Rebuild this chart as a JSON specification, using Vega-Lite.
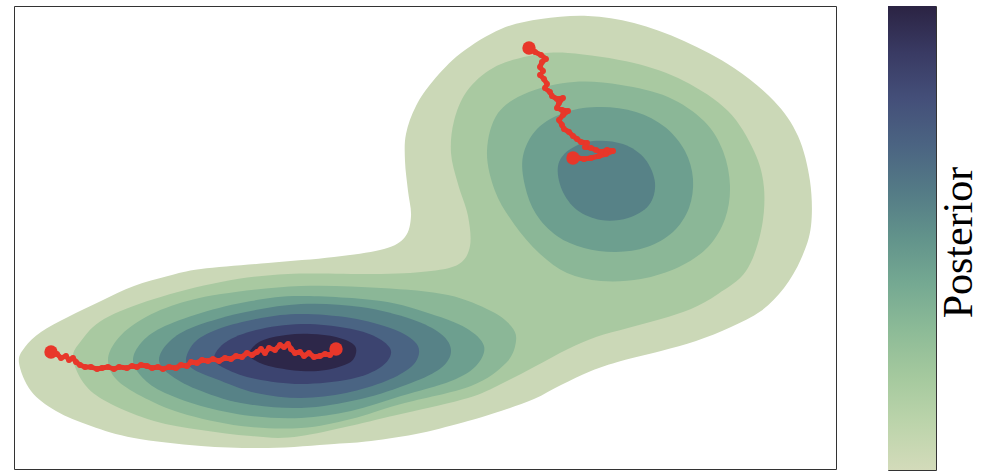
{
  "$schema": "https://vega.github.io/schema/vega-lite/v6.json",
  "background": "white",
  "padding": {"left": 13, "top": 5, "right": 0, "bottom": 0},
  "config": {"view": {"stroke": "#333333", "strokeWidth": 1}},
  "spacing": 50,
  "datasets": {
    "contours": [
      {"c":"1","lv":1,"x":18,"y":362},{"c":"1","lv":1,"x":24,"y":346},{"c":"1","lv":1,"x":40,"y":331},{"c":"1","lv":1,"x":67,"y":316},{"c":"1","lv":1,"x":100,"y":300},{"c":"1","lv":1,"x":133,"y":285},{"c":"1","lv":1,"x":167,"y":275},{"c":"1","lv":1,"x":200,"y":268},{"c":"1","lv":1,"x":267,"y":262},{"c":"1","lv":1,"x":333,"y":256},{"c":"1","lv":1,"x":383,"y":248},{"c":"1","lv":1,"x":404,"y":236},{"c":"1","lv":1,"x":410,"y":215},{"c":"1","lv":1,"x":407,"y":190},{"c":"1","lv":1,"x":404,"y":160},{"c":"1","lv":1,"x":405,"y":133},{"c":"1","lv":1,"x":415,"y":105},{"c":"1","lv":1,"x":432,"y":80},{"c":"1","lv":1,"x":460,"y":52},{"c":"1","lv":1,"x":500,"y":28},{"c":"1","lv":1,"x":540,"y":18},{"c":"1","lv":1,"x":587,"y":15},{"c":"1","lv":1,"x":633,"y":22},{"c":"1","lv":1,"x":683,"y":40},{"c":"1","lv":1,"x":733,"y":67},{"c":"1","lv":1,"x":773,"y":100},{"c":"1","lv":1,"x":797,"y":135},{"c":"1","lv":1,"x":809,"y":180},{"c":"1","lv":1,"x":810,"y":225},{"c":"1","lv":1,"x":800,"y":258},{"c":"1","lv":1,"x":783,"y":287},{"c":"1","lv":1,"x":760,"y":310},{"c":"1","lv":1,"x":730,"y":326},{"c":"1","lv":1,"x":695,"y":340},{"c":"1","lv":1,"x":660,"y":350},{"c":"1","lv":1,"x":620,"y":360},{"c":"1","lv":1,"x":590,"y":370},{"c":"1","lv":1,"x":560,"y":384},{"c":"1","lv":1,"x":533,"y":398},{"c":"1","lv":1,"x":500,"y":410},{"c":"1","lv":1,"x":467,"y":420},{"c":"1","lv":1,"x":420,"y":432},{"c":"1","lv":1,"x":370,"y":440},{"c":"1","lv":1,"x":333,"y":443},{"c":"1","lv":1,"x":267,"y":447},{"c":"1","lv":1,"x":200,"y":445},{"c":"1","lv":1,"x":133,"y":437},{"c":"1","lv":1,"x":90,"y":425},{"c":"1","lv":1,"x":55,"y":410},{"c":"1","lv":1,"x":30,"y":390},
      {"c":"2","lv":2,"x":72,"y":358},{"c":"2","lv":2,"x":80,"y":340},{"c":"2","lv":2,"x":103,"y":318},{"c":"2","lv":2,"x":153,"y":298},{"c":"2","lv":2,"x":220,"y":281},{"c":"2","lv":2,"x":287,"y":273},{"c":"2","lv":2,"x":380,"y":273},{"c":"2","lv":2,"x":430,"y":270},{"c":"2","lv":2,"x":458,"y":263},{"c":"2","lv":2,"x":469,"y":245},{"c":"2","lv":2,"x":467,"y":215},{"c":"2","lv":2,"x":457,"y":183},{"c":"2","lv":2,"x":450,"y":152},{"c":"2","lv":2,"x":453,"y":120},{"c":"2","lv":2,"x":466,"y":90},{"c":"2","lv":2,"x":492,"y":67},{"c":"2","lv":2,"x":528,"y":55},{"c":"2","lv":2,"x":567,"y":52},{"c":"2","lv":2,"x":633,"y":62},{"c":"2","lv":2,"x":683,"y":80},{"c":"2","lv":2,"x":727,"y":110},{"c":"2","lv":2,"x":753,"y":150},{"c":"2","lv":2,"x":763,"y":187},{"c":"2","lv":2,"x":760,"y":230},{"c":"2","lv":2,"x":745,"y":270},{"c":"2","lv":2,"x":717,"y":293},{"c":"2","lv":2,"x":690,"y":308},{"c":"2","lv":2,"x":660,"y":318},{"c":"2","lv":2,"x":627,"y":327},{"c":"2","lv":2,"x":595,"y":336},{"c":"2","lv":2,"x":567,"y":348},{"c":"2","lv":2,"x":533,"y":366},{"c":"2","lv":2,"x":500,"y":383},{"c":"2","lv":2,"x":467,"y":397},{"c":"2","lv":2,"x":400,"y":413},{"c":"2","lv":2,"x":300,"y":435},{"c":"2","lv":2,"x":250,"y":435},{"c":"2","lv":2,"x":200,"y":429},{"c":"2","lv":2,"x":153,"y":420},{"c":"2","lv":2,"x":110,"y":403},{"c":"2","lv":2,"x":85,"y":385},
      {"c":"3a","lv":3,"x":107,"y":359},{"c":"3a","lv":3,"x":115,"y":340},{"c":"3a","lv":3,"x":135,"y":322},{"c":"3a","lv":3,"x":170,"y":305},{"c":"3a","lv":3,"x":220,"y":293},{"c":"3a","lv":3,"x":300,"y":285},{"c":"3a","lv":3,"x":380,"y":287},{"c":"3a","lv":3,"x":447,"y":294},{"c":"3a","lv":3,"x":490,"y":310},{"c":"3a","lv":3,"x":510,"y":325},{"c":"3a","lv":3,"x":515,"y":340},{"c":"3a","lv":3,"x":505,"y":362},{"c":"3a","lv":3,"x":470,"y":385},{"c":"3a","lv":3,"x":400,"y":403},{"c":"3a","lv":3,"x":350,"y":418},{"c":"3a","lv":3,"x":300,"y":427},{"c":"3a","lv":3,"x":240,"y":425},{"c":"3a","lv":3,"x":180,"y":412},{"c":"3a","lv":3,"x":140,"y":395},{"c":"3a","lv":3,"x":115,"y":378},
      {"c":"3b","lv":3,"x":497,"y":112},{"c":"3b","lv":3,"x":528,"y":91},{"c":"3b","lv":3,"x":573,"y":81},{"c":"3b","lv":3,"x":620,"y":84},{"c":"3b","lv":3,"x":667,"y":96},{"c":"3b","lv":3,"x":703,"y":120},{"c":"3b","lv":3,"x":722,"y":150},{"c":"3b","lv":3,"x":729,"y":185},{"c":"3b","lv":3,"x":724,"y":218},{"c":"3b","lv":3,"x":707,"y":246},{"c":"3b","lv":3,"x":678,"y":266},{"c":"3b","lv":3,"x":640,"y":278},{"c":"3b","lv":3,"x":600,"y":280},{"c":"3b","lv":3,"x":566,"y":272},{"c":"3b","lv":3,"x":538,"y":252},{"c":"3b","lv":3,"x":513,"y":223},{"c":"3b","lv":3,"x":494,"y":190},{"c":"3b","lv":3,"x":486,"y":150},
      {"c":"4a","lv":4,"x":132,"y":359},{"c":"4a","lv":4,"x":140,"y":342},{"c":"4a","lv":4,"x":160,"y":327},{"c":"4a","lv":4,"x":200,"y":312},{"c":"4a","lv":4,"x":250,"y":300},{"c":"4a","lv":4,"x":300,"y":295},{"c":"4a","lv":4,"x":380,"y":300},{"c":"4a","lv":4,"x":430,"y":313},{"c":"4a","lv":4,"x":465,"y":327},{"c":"4a","lv":4,"x":483,"y":345},{"c":"4a","lv":4,"x":475,"y":365},{"c":"4a","lv":4,"x":450,"y":380},{"c":"4a","lv":4,"x":400,"y":395},{"c":"4a","lv":4,"x":350,"y":410},{"c":"4a","lv":4,"x":300,"y":417},{"c":"4a","lv":4,"x":250,"y":415},{"c":"4a","lv":4,"x":200,"y":405},{"c":"4a","lv":4,"x":160,"y":390},{"c":"4a","lv":4,"x":140,"y":375},
      {"c":"4b","lv":4,"x":522,"y":155},{"c":"4b","lv":4,"x":536,"y":128},{"c":"4b","lv":4,"x":565,"y":111},{"c":"4b","lv":4,"x":600,"y":106},{"c":"4b","lv":4,"x":635,"y":111},{"c":"4b","lv":4,"x":664,"y":126},{"c":"4b","lv":4,"x":684,"y":150},{"c":"4b","lv":4,"x":692,"y":178},{"c":"4b","lv":4,"x":688,"y":207},{"c":"4b","lv":4,"x":672,"y":231},{"c":"4b","lv":4,"x":646,"y":246},{"c":"4b","lv":4,"x":615,"y":251},{"c":"4b","lv":4,"x":583,"y":247},{"c":"4b","lv":4,"x":556,"y":235},{"c":"4b","lv":4,"x":535,"y":213},{"c":"4b","lv":4,"x":524,"y":185},
      {"c":"5a","lv":5,"x":158,"y":359},{"c":"5a","lv":5,"x":167,"y":342},{"c":"5a","lv":5,"x":190,"y":327},{"c":"5a","lv":5,"x":240,"y":312},{"c":"5a","lv":5,"x":300,"y":303},{"c":"5a","lv":5,"x":360,"y":306},{"c":"5a","lv":5,"x":410,"y":318},{"c":"5a","lv":5,"x":440,"y":333},{"c":"5a","lv":5,"x":450,"y":350},{"c":"5a","lv":5,"x":440,"y":367},{"c":"5a","lv":5,"x":410,"y":382},{"c":"5a","lv":5,"x":360,"y":398},{"c":"5a","lv":5,"x":300,"y":407},{"c":"5a","lv":5,"x":240,"y":402},{"c":"5a","lv":5,"x":195,"y":388},{"c":"5a","lv":5,"x":168,"y":373},
      {"c":"5b","lv":5,"x":557,"y":165},{"c":"5b","lv":5,"x":568,"y":149},{"c":"5b","lv":5,"x":592,"y":140},{"c":"5b","lv":5,"x":622,"y":143},{"c":"5b","lv":5,"x":644,"y":158},{"c":"5b","lv":5,"x":654,"y":182},{"c":"5b","lv":5,"x":648,"y":204},{"c":"5b","lv":5,"x":627,"y":217},{"c":"5b","lv":5,"x":600,"y":219},{"c":"5b","lv":5,"x":576,"y":209},{"c":"5b","lv":5,"x":561,"y":189},
      {"c":"6","lv":6,"x":185,"y":358},{"c":"6","lv":6,"x":195,"y":340},{"c":"6","lv":6,"x":220,"y":327},{"c":"6","lv":6,"x":260,"y":317},{"c":"6","lv":6,"x":300,"y":313},{"c":"6","lv":6,"x":350,"y":317},{"c":"6","lv":6,"x":392,"y":328},{"c":"6","lv":6,"x":413,"y":340},{"c":"6","lv":6,"x":418,"y":352},{"c":"6","lv":6,"x":410,"y":366},{"c":"6","lv":6,"x":385,"y":380},{"c":"6","lv":6,"x":345,"y":392},{"c":"6","lv":6,"x":300,"y":397},{"c":"6","lv":6,"x":255,"y":392},{"c":"6","lv":6,"x":215,"y":378},{"c":"6","lv":6,"x":192,"y":368},
      {"c":"7","lv":7,"x":213,"y":357},{"c":"7","lv":7,"x":225,"y":341},{"c":"7","lv":7,"x":255,"y":329},{"c":"7","lv":7,"x":300,"y":323},{"c":"7","lv":7,"x":345,"y":327},{"c":"7","lv":7,"x":375,"y":336},{"c":"7","lv":7,"x":390,"y":350},{"c":"7","lv":7,"x":380,"y":366},{"c":"7","lv":7,"x":350,"y":378},{"c":"7","lv":7,"x":300,"y":383},{"c":"7","lv":7,"x":255,"y":378},{"c":"7","lv":7,"x":225,"y":368},
      {"c":"8","lv":8,"x":248,"y":352},{"c":"8","lv":8,"x":260,"y":340},{"c":"8","lv":8,"x":285,"y":334},{"c":"8","lv":8,"x":310,"y":333},{"c":"8","lv":8,"x":335,"y":336},{"c":"8","lv":8,"x":352,"y":343},{"c":"8","lv":8,"x":355,"y":352},{"c":"8","lv":8,"x":348,"y":362},{"c":"8","lv":8,"x":325,"y":369},{"c":"8","lv":8,"x":300,"y":370},{"c":"8","lv":8,"x":272,"y":366},{"c":"8","lv":8,"x":255,"y":360}
    ],
    "paths": [
      {"t":"a","x":50,"y":351},{"t":"a","x":56,"y":353},{"t":"a","x":60,"y":357},{"t":"a","x":65,"y":355},{"t":"a","x":68,"y":359},{"t":"a","x":72,"y":357},{"t":"a","x":75,"y":361},{"t":"a","x":79,"y":364},{"t":"a","x":84,"y":366},{"t":"a","x":90,"y":366},{"t":"a","x":96,"y":368},{"t":"a","x":101,"y":367},{"t":"a","x":107,"y":366},{"t":"a","x":113,"y":368},{"t":"a","x":118,"y":366},{"t":"a","x":126,"y":367},{"t":"a","x":131,"y":365},{"t":"a","x":136,"y":366},{"t":"a","x":140,"y":364},{"t":"a","x":146,"y":365},{"t":"a","x":151,"y":367},{"t":"a","x":157,"y":366},{"t":"a","x":162,"y":368},{"t":"a","x":168,"y":366},{"t":"a","x":175,"y":367},{"t":"a","x":180,"y":364},{"t":"a","x":186,"y":365},{"t":"a","x":190,"y":361},{"t":"a","x":196,"y":362},{"t":"a","x":201,"y":359},{"t":"a","x":207,"y":360},{"t":"a","x":212,"y":358},{"t":"a","x":218,"y":360},{"t":"a","x":224,"y":357},{"t":"a","x":230,"y":358},{"t":"a","x":235,"y":355},{"t":"a","x":241,"y":356},{"t":"a","x":246,"y":352},{"t":"a","x":251,"y":354},{"t":"a","x":256,"y":351},{"t":"a","x":260,"y":348},{"t":"a","x":264,"y":352},{"t":"a","x":268,"y":347},{"t":"a","x":274,"y":349},{"t":"a","x":279,"y":344},{"t":"a","x":283,"y":346},{"t":"a","x":287,"y":343},{"t":"a","x":290,"y":348},{"t":"a","x":294,"y":352},{"t":"a","x":299,"y":351},{"t":"a","x":303,"y":355},{"t":"a","x":308,"y":352},{"t":"a","x":313,"y":356},{"t":"a","x":319,"y":355},{"t":"a","x":324,"y":353},{"t":"a","x":329,"y":354},{"t":"a","x":333,"y":350},{"t":"a","x":335,"y":348},
      {"t":"b","x":528,"y":47},{"t":"b","x":534,"y":51},{"t":"b","x":540,"y":54},{"t":"b","x":545,"y":58},{"t":"b","x":541,"y":61},{"t":"b","x":539,"y":66},{"t":"b","x":542,"y":70},{"t":"b","x":539,"y":74},{"t":"b","x":543,"y":78},{"t":"b","x":546,"y":83},{"t":"b","x":544,"y":87},{"t":"b","x":549,"y":91},{"t":"b","x":551,"y":95},{"t":"b","x":556,"y":98},{"t":"b","x":562,"y":97},{"t":"b","x":558,"y":102},{"t":"b","x":556,"y":107},{"t":"b","x":561,"y":109},{"t":"b","x":567,"y":110},{"t":"b","x":562,"y":114},{"t":"b","x":558,"y":119},{"t":"b","x":561,"y":124},{"t":"b","x":563,"y":128},{"t":"b","x":568,"y":131},{"t":"b","x":572,"y":135},{"t":"b","x":576,"y":138},{"t":"b","x":580,"y":141},{"t":"b","x":586,"y":142},{"t":"b","x":584,"y":146},{"t":"b","x":590,"y":147},{"t":"b","x":595,"y":149},{"t":"b","x":600,"y":151},{"t":"b","x":606,"y":149},{"t":"b","x":612,"y":150},{"t":"b","x":605,"y":153},{"t":"b","x":598,"y":155},{"t":"b","x":590,"y":157},{"t":"b","x":583,"y":158},{"t":"b","x":577,"y":157},{"t":"b","x":572,"y":157}
    ],
    "ends": [
      {"x":50,"y":351},{"x":335,"y":348},{"x":528,"y":47},{"x":572,"y":157}
    ],
    "bar": [{"lo":0,"hi":1}]
  },
  "hconcat": [
    {
      "width": 822,
      "height": 463,
      "layer": [
        {
          "data": {"name": "contours"},
          "mark": {"type": "line", "interpolate": "cardinal-closed", "strokeWidth": 0},
          "encoding": {
            "x": {"field": "x", "type": "quantitative", "scale": {"domain": [13, 835], "nice": false, "zero": false}, "axis": null},
            "y": {"field": "y", "type": "quantitative", "scale": {"domain": [5, 468], "nice": false, "zero": false, "reverse": true}, "axis": null},
            "detail": {"field": "c"},
            "fill": {"field": "lv", "type": "ordinal", "scale": {"domain": [1,2,3,4,5,6,7,8], "range": ["#cbd8b7","#a9c9a1","#8bb797","#6d9f8f","#578287","#4a6483","#3c4470","#2d2749"]}, "legend": null},
            "order": {"value": null}
          }
        },
        {
          "data": {"name": "paths"},
          "mark": {"type": "line", "color": "#e8372a", "strokeWidth": 5, "strokeJoin": "round", "strokeCap": "round"},
          "encoding": {
            "x": {"field": "x", "type": "quantitative"},
            "y": {"field": "y", "type": "quantitative"},
            "detail": {"field": "t"},
            "order": {"value": null}
          }
        },
        {
          "data": {"name": "paths"},
          "mark": {"type": "point", "filled": true, "color": "#e8372a", "opacity": 1, "size": 34},
          "encoding": {
            "x": {"field": "x", "type": "quantitative"},
            "y": {"field": "y", "type": "quantitative"}
          }
        },
        {
          "data": {"name": "ends"},
          "mark": {"type": "point", "filled": true, "color": "#e8372a", "opacity": 1, "size": 180},
          "encoding": {
            "x": {"field": "x", "type": "quantitative"},
            "y": {"field": "y", "type": "quantitative"}
          }
        }
      ]
    },
    {
      "width": 48,
      "height": 464,
      "data": {"name": "bar"},
      "mark": {"type": "rect", "color": {"gradient": "linear", "x1": 0, "y1": 1, "x2": 0, "y2": 0, "stops": [
        {"offset": 0, "color": "#d3dbba"},
        {"offset": 0.1, "color": "#bcd4ab"},
        {"offset": 0.2, "color": "#a5c99e"},
        {"offset": 0.3, "color": "#8dbb97"},
        {"offset": 0.4, "color": "#75a992"},
        {"offset": 0.5, "color": "#62938b"},
        {"offset": 0.6, "color": "#547b86"},
        {"offset": 0.7, "color": "#4b6482"},
        {"offset": 0.8, "color": "#444f79"},
        {"offset": 0.9, "color": "#393a63"},
        {"offset": 1, "color": "#2b2343"}
      ]}},
      "encoding": {
        "y": {"field": "lo", "type": "quantitative", "scale": {"domain": [0, 1], "nice": false}, "axis": {"orient": "right", "title": "Posterior", "labels": false, "ticks": false, "domain": false, "grid": false, "titleFont": "Liberation Serif", "titleFontSize": 42, "titleFontWeight": "normal", "titleColor": "#000000", "titleAngle": 270, "titleBaseline": "alphabetic", "titleAlign": "center", "titleX": 35, "titleY": 236}},
        "y2": {"field": "hi"}
      }
    }
  ]
}
